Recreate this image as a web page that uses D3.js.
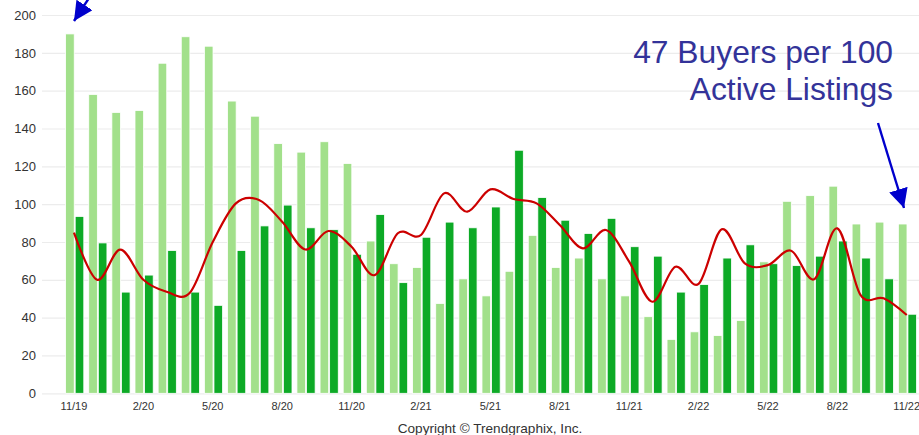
<!DOCTYPE html>
<html lang="en">
<head>
    <meta charset="UTF-8">
    <title>Buyers per 100 Active Listings</title>
    <script src="https://d3js.org/d3.v7.min.js"></script>
    <style>
        body { margin: 0; background: #fff; }
        svg { display: block; font-family: "Liberation Sans", Arial, sans-serif; }
    </style>
</head>
<body>
    <div id="chart"></div>

    <script>
        // meses de 11/19 a 11/22
        var months = ["11/19", "12/19", "1/20", "2/20", "3/20", "4/20", "5/20", "6/20", "7/20", "8/20", "9/20", "10/20",
                      "11/20", "12/20", "1/21", "2/21", "3/21", "4/21", "5/21", "6/21", "7/21", "8/21", "9/21", "10/21",
                      "11/21", "12/21", "1/22", "2/22", "3/22", "4/22", "5/22", "6/22", "7/22", "8/22", "9/22", "10/22",
                      "11/22"];

        var lightValues = [190, 158, 148.5, 149.5, 174.5, 188.5, 183.5, 154.5, 146.5, 132, 127.5, 133,
                           121.5, 80.5, 68.5, 66.5, 47.5, 60.5, 51.5, 64.5, 83.5, 66.5, 71.5, 60.5,
                           51.5, 40.5, 28.5, 32.5, 30.5, 38.5, 69.5, 101.5, 104.5, 109.5, 89.5, 90.5,
                           89.5];

        var darkValues = [93.5, 79.5, 53.5, 62.5, 75.5, 53.5, 46.5, 75.5, 88.5, 99.5, 87.5, 86.5,
                          73.5, 94.5, 58.5, 82.5, 90.5, 87.5, 98.5, 128.5, 103.5, 91.5, 84.5, 92.5,
                          77.5, 72.5, 53.5, 57.5, 71.5, 78.5, 68.5, 67.5, 72.5, 80.5, 71.5, 60.5,
                          41.8];

        var trendValues = [85, 60, 76, 60, 53.7, 53, 80, 100.4, 102.2, 90.7, 76, 85.8,
                           77.5, 62.5, 84.6, 83.7, 105.7, 96, 107.8, 102.7, 100.4, 89, 76.6, 86.3,
                           69.6, 48.4, 66.9, 57.8, 86.7, 68.7, 67.8, 75.4, 60.3, 87.2, 52, 50.2,
                           41.4];

        var yTicks = [0, 20, 40, 60, 80, 100, 120, 140, 160, 180, 200];
        var tickLabels = ["11/19", "2/20", "5/20", "8/20", "11/20", "2/21", "5/21", "8/21", "11/21", "2/22", "5/22", "8/22", "11/22"];

        var width = 919;
        var height = 435;
        var plotLeft = 42;

        var svg = d3.select("#chart")
                    .append("svg")
                    .attr("width", width)
                    .attr("height", height);

        var x = d3.scaleBand()
                  .domain(months)
                  .range([62.4, 918.3]);

        var inner = d3.scaleBand()
                      .domain(["light", "dark"])
                      .range([3.2, 21.4])
                      .paddingInner(0.1);

        var y = d3.scaleLinear()
                  .domain([0, 200])
                  .range([393.3, 15]);

        // rejilla y etiquetas del eje y
        var yAxis = svg.append("g")
                       .attr("transform", "translate(" + plotLeft + ",0)")
                       .call(d3.axisLeft(y).tickValues(yTicks).tickSize(-(width - plotLeft)).tickPadding(6));
        yAxis.select(".domain").remove();
        yAxis.selectAll("line").attr("stroke", "#ececec").attr("stroke-width", 1.2);
        yAxis.selectAll("text")
             .attr("font-size", "13px")
             .attr("fill", "#333")
             .attr("font-family", "'Liberation Sans', Arial, sans-serif");

        var xAxis = svg.append("g")
                       .attr("transform", "translate(0," + y(0) + ")")
                       .call(d3.axisBottom(x).tickValues(tickLabels).tickSize(0).tickPadding(9));
        xAxis.select(".domain").remove();
        xAxis.selectAll("text")
             .attr("font-size", "11px")
             .attr("fill", "#333")
             .attr("font-family", "'Liberation Sans', Arial, sans-serif");

        // barras
        svg.selectAll("rect.light")
           .data(months)
           .enter()
           .append("rect")
           .attr("class", "light")
           .attr("x", function(d) { return x(d) + inner("light"); })
           .attr("y", function(d, i) { return y(lightValues[i]); })
           .attr("width", inner.bandwidth())
           .attr("height", function(d, i) { return y(0) - y(lightValues[i]); })
           .attr("fill", "#a2e08b")
           .attr("stroke", "#fff")
           .attr("stroke-width", 0.8);

        svg.selectAll("rect.dark")
           .data(months)
           .enter()
           .append("rect")
           .attr("class", "dark")
           .attr("x", function(d) { return x(d) + inner("dark"); })
           .attr("y", function(d, i) { return y(darkValues[i]); })
           .attr("width", inner.bandwidth())
           .attr("height", function(d, i) { return y(0) - y(darkValues[i]); })
           .attr("fill", "#0daa26")
           .attr("stroke", "#fff")
           .attr("stroke-width", 0.8);

        // linea roja suavizada
        var line = d3.line()
                     .x(function(d, i) { return x(months[i]) + x.bandwidth() / 2; })
                     .y(function(d) { return y(d); })
                     .curve(d3.curveCardinal.tension(0));

        svg.append("path")
           .datum(trendValues)
           .attr("d", line)
           .attr("fill", "none")
           .attr("stroke", "#cc0000")
           .attr("stroke-width", 2.2);

        // flechas
        svg.append("defs")
           .append("marker")
           .attr("id", "head")
           .attr("viewBox", "0 0 10 10")
           .attr("refX", 10)
           .attr("refY", 5)
           .attr("markerWidth", 8)
           .attr("markerHeight", 8)
           .attr("markerUnits", "strokeWidth")
           .attr("orient", "auto")
           .append("path")
           .attr("d", "M0,0L10,5L0,10z")
           .attr("fill", "#0000cc");

        svg.append("line")
           .attr("x1", 89).attr("y1", -2)
           .attr("x2", 74).attr("y2", 21)
           .attr("stroke", "#0000cc")
           .attr("stroke-width", 2.4)
           .attr("marker-end", "url(#head)");

        svg.append("line")
           .attr("x1", 878).attr("y1", 123)
           .attr("x2", 904).attr("y2", 208)
           .attr("stroke", "#0000cc")
           .attr("stroke-width", 2.4)
           .attr("marker-end", "url(#head)");

        // anotacion
        var note = svg.append("text")
                      .attr("text-anchor", "end")
                      .attr("font-size", "31.8px")
                      .attr("fill", "#333399");
        note.append("tspan").attr("x", 893).attr("y", 63).text("47 Buyers per 100");
        note.append("tspan").attr("x", 893).attr("y", 100).text("Active Listings");

        svg.append("text")
           .attr("x", 490)
           .attr("y", 433)
           .attr("text-anchor", "middle")
           .attr("font-size", "13.6px")
           .attr("fill", "#333")
           .text("Copyright \u00a9 Trendgraphix, Inc.");
    </script>
</body>
</html>
